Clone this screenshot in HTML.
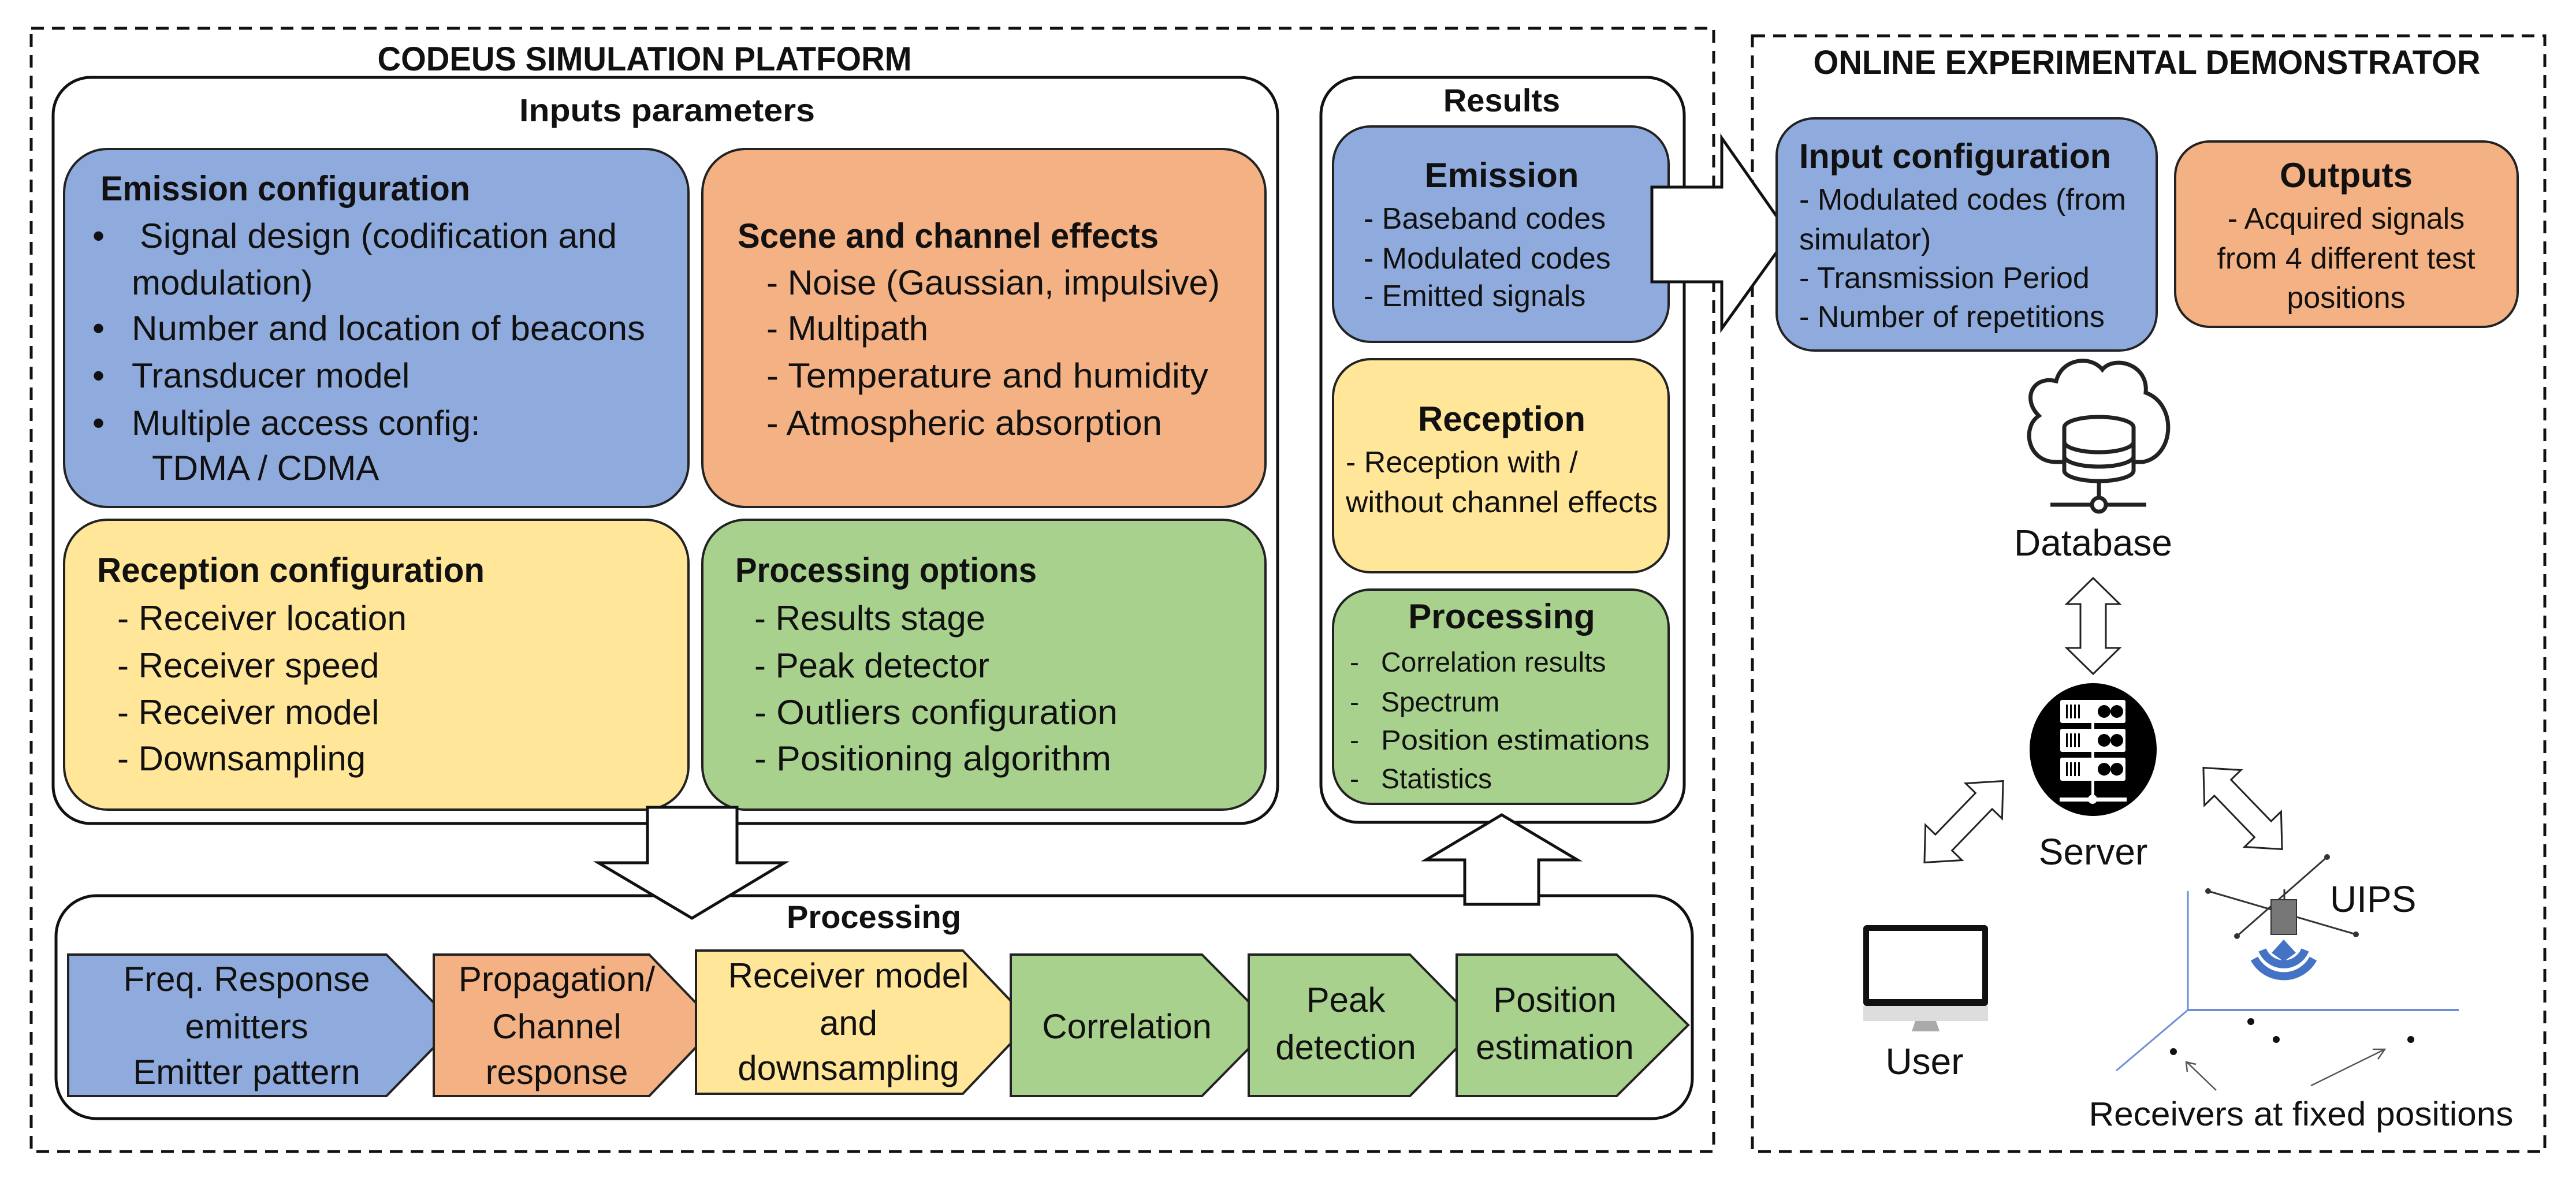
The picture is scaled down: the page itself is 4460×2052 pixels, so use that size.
<!DOCTYPE html>
<html><head><meta charset="utf-8"><style>
html,body{margin:0;padding:0;background:#fff;}
svg{display:block;}
text{font-family:"Liberation Sans",sans-serif;fill:#111;}
.b{font-weight:bold;}
</style></head><body>
<svg width="4460" height="2052" viewBox="0 0 4460 2052" xmlns="http://www.w3.org/2000/svg">
<!-- Dashed containers -->
<rect x="54" y="49" width="2913" height="1945" fill="none" stroke="#111" stroke-width="5" stroke-dasharray="22 14"/>
<rect x="3034" y="62" width="1372" height="1932" fill="none" stroke="#111" stroke-width="5" stroke-dasharray="22 14"/>
<text x="1116" y="122" font-size="58" class="b" text-anchor="middle" textLength="925" lengthAdjust="spacingAndGlyphs">CODEUS SIMULATION PLATFORM</text>
<text x="3717" y="128" font-size="58" class="b" text-anchor="middle" textLength="1155" lengthAdjust="spacingAndGlyphs">ONLINE EXPERIMENTAL DEMONSTRATOR</text>

<!-- Inputs parameters -->
<rect x="92" y="134" width="2120" height="1292" rx="65" fill="#fff" stroke="#111" stroke-width="5"/>
<text x="1155" y="210" font-size="56" class="b" text-anchor="middle" textLength="512" lengthAdjust="spacingAndGlyphs">Inputs parameters</text>

<rect x="111" y="258" width="1081" height="620" rx="75" fill="#8FAADC" stroke="#222" stroke-width="4"/>
<rect x="1216" y="258" width="975" height="620" rx="75" fill="#F4B183" stroke="#222" stroke-width="4"/>
<rect x="111" y="900" width="1081" height="502" rx="75" fill="#FFE699" stroke="#222" stroke-width="4"/>
<rect x="1216" y="900" width="975" height="502" rx="75" fill="#A9D18E" stroke="#222" stroke-width="4"/>

<g font-size="60">
<text x="174" y="347" class="b" textLength="640" lengthAdjust="spacingAndGlyphs">Emission configuration</text>
<text x="160" y="429">•</text><text x="242" y="429" textLength="826" lengthAdjust="spacingAndGlyphs">Signal design (codification and</text>
<text x="228" y="510">modulation)</text>
<text x="160" y="589">•</text><text x="228" y="589" textLength="889" lengthAdjust="spacingAndGlyphs">Number and location of beacons</text>
<text x="160" y="671">•</text><text x="228" y="671">Transducer model</text>
<text x="160" y="753">•</text><text x="228" y="753">Multiple access config:</text>
<text x="263" y="831">TDMA / CDMA</text>

<text x="1277" y="429" class="b" textLength="729" lengthAdjust="spacingAndGlyphs">Scene and channel effects</text>
<text x="1327" y="510" textLength="785" lengthAdjust="spacingAndGlyphs">- Noise (Gaussian, impulsive)</text>
<text x="1327" y="589">- Multipath</text>
<text x="1327" y="671" textLength="765" lengthAdjust="spacingAndGlyphs">- Temperature and humidity</text>
<text x="1327" y="753" textLength="685" lengthAdjust="spacingAndGlyphs">- Atmospheric absorption</text>

<text x="168" y="1008" class="b" textLength="671" lengthAdjust="spacingAndGlyphs">Reception configuration</text>
<text x="203" y="1091" textLength="501" lengthAdjust="spacingAndGlyphs">- Receiver location</text>
<text x="203" y="1173">- Receiver speed</text>
<text x="203" y="1254">- Receiver model</text>
<text x="203" y="1334">- Downsampling</text>

<text x="1273" y="1008" class="b" textLength="522" lengthAdjust="spacingAndGlyphs">Processing options</text>
<text x="1306" y="1091">- Results stage</text>
<text x="1306" y="1173">- Peak detector</text>
<text x="1306" y="1254" textLength="629" lengthAdjust="spacingAndGlyphs">- Outliers configuration</text>
<text x="1306" y="1334" textLength="618" lengthAdjust="spacingAndGlyphs">- Positioning algorithm</text>
</g>

<!-- Results -->
<rect x="2287" y="134" width="629" height="1290" rx="65" fill="#fff" stroke="#111" stroke-width="5"/>
<text x="2600" y="193" font-size="56" class="b" text-anchor="middle">Results</text>
<rect x="2308" y="219" width="581" height="373" rx="65" fill="#8FAADC" stroke="#222" stroke-width="4"/>
<rect x="2308" y="622" width="581" height="369" rx="65" fill="#FFE699" stroke="#222" stroke-width="4"/>
<rect x="2308" y="1021" width="581" height="371" rx="65" fill="#A9D18E" stroke="#222" stroke-width="4"/>
<g font-size="52">
<text x="2600" y="324" font-size="60" class="b" text-anchor="middle">Emission</text>
<text x="2361" y="396">- Baseband codes</text>
<text x="2361" y="465">- Modulated codes</text>
<text x="2361" y="530">- Emitted signals</text>
<text x="2600" y="746" font-size="60" class="b" text-anchor="middle">Reception</text>
<text x="2330" y="818">- Reception with /</text>
<text x="2330" y="887" textLength="540" lengthAdjust="spacingAndGlyphs">without channel effects</text>
<text x="2600" y="1088" font-size="60" class="b" text-anchor="middle">Processing</text>
<g font-size="48">
<text x="2337" y="1163">-</text><text x="2391" y="1163">Correlation results</text>
<text x="2337" y="1232">-</text><text x="2391" y="1232">Spectrum</text>
<text x="2337" y="1298">-</text><text x="2391" y="1298" textLength="465" lengthAdjust="spacingAndGlyphs">Position estimations</text>
<text x="2337" y="1365">-</text><text x="2391" y="1365">Statistics</text>
</g>
</g>

<!-- Processing box -->
<rect x="97" y="1551" width="2833" height="386" rx="70" fill="#fff" stroke="#111" stroke-width="5"/>
<text x="1513" y="1607" font-size="56" class="b" text-anchor="middle">Processing</text>

<!-- Down arrow -->
<polygon points="1121,1398 1276,1398 1276,1494 1358,1494 1198,1590 1036,1494 1121,1494" fill="#fff" stroke="#111" stroke-width="5"/>
<!-- Up arrow -->
<polygon points="2536,1566 2664,1566 2664,1489 2731,1489 2600,1411 2469,1489 2536,1489" fill="#fff" stroke="#111" stroke-width="5"/>
<!-- Right arrow -->
<polygon points="2860,324 2981,324 2981,239 3098,406 2981,569 2981,488 2860,488" fill="#fff" stroke="#111" stroke-width="5"/>

<!-- Chevrons -->
<g stroke="#222" stroke-width="4">
<polygon points="118,1653 669,1653 789,1775 669,1898 118,1898" fill="#8FAADC"/>
<polygon points="751,1653 1124,1653 1242,1775 1124,1898 751,1898" fill="#F4B183"/>
<polygon points="1205,1646 1667,1646 1785,1770 1667,1894 1205,1894" fill="#FFE699"/>
<polygon points="1750,1653 2081,1653 2202,1775 2081,1898 1750,1898" fill="#A9D18E"/>
<polygon points="2162,1653 2441,1653 2561,1775 2441,1898 2162,1898" fill="#A9D18E"/>
<polygon points="2522,1653 2799,1653 2923,1775 2799,1898 2522,1898" fill="#A9D18E"/>
</g>
<g font-size="60" text-anchor="middle">
<text x="427" y="1716">Freq. Response</text>
<text x="427" y="1798">emitters</text>
<text x="427" y="1877">Emitter pattern</text>
<text x="964" y="1716">Propagation/</text>
<text x="964" y="1798">Channel</text>
<text x="964" y="1877">response</text>
<text x="1469" y="1710">Receiver model</text>
<text x="1469" y="1792">and</text>
<text x="1469" y="1870">downsampling</text>
<text x="1951" y="1798">Correlation</text>
<text x="2330" y="1752">Peak</text>
<text x="2330" y="1834">detection</text>
<text x="2692" y="1752">Position</text>
<text x="2692" y="1834">estimation</text>
</g>

<!-- Online demonstrator boxes -->
<rect x="3076" y="205" width="658" height="402" rx="65" fill="#8FAADC" stroke="#222" stroke-width="4"/>
<rect x="3766" y="245" width="593" height="321" rx="60" fill="#F4B183" stroke="#222" stroke-width="4"/>
<g font-size="52">
<text x="3115" y="291" font-size="60" class="b" textLength="540" lengthAdjust="spacingAndGlyphs">Input configuration</text>
<text x="3115" y="363" textLength="566" lengthAdjust="spacingAndGlyphs">- Modulated codes (from</text>
<text x="3115" y="432">simulator)</text>
<text x="3115" y="499">- Transmission Period</text>
<text x="3115" y="566">- Number of repetitions</text>
<text x="4062" y="324" font-size="60" class="b" text-anchor="middle">Outputs</text>
<text x="4062" y="396" text-anchor="middle">- Acquired signals</text>
<text x="4062" y="465" text-anchor="middle">from 4 different test</text>
<text x="4062" y="533" text-anchor="middle">positions</text>
</g>

<!-- Database icon -->
<g fill="#fff" stroke="#222" stroke-width="7">
<path d="M3560,800 C3510,800 3500,740 3530,720 C3500,690 3520,650 3560,660 C3570,620 3620,615 3640,640 C3660,615 3720,630 3715,680 C3770,700 3765,790 3710,800 Z"/>
<ellipse cx="3634" cy="740" rx="60" ry="18"/>
<path d="M3574,740 L3574,815 A60,18 0 0 0 3694,815 L3694,740"/>
<path d="M3574,765 A60,18 0 0 0 3694,765 M3574,790 A60,18 0 0 0 3694,790" fill="none"/>
<line x1="3634" y1="833" x2="3634" y2="862"/>
<line x1="3550" y1="874" x2="3716" y2="874"/>
<circle cx="3634" cy="874" r="12"/>
</g>
<text x="3624" y="962" font-size="64" text-anchor="middle">Database</text>

<!-- Double arrows -->
<g fill="#fff" stroke="#222" stroke-width="3">
<polygon transform="translate(3624,1084) rotate(90)" points="-83,0 -38,-46 -38,-22 38,-22 38,-46 83,0 38,46 38,22 -38,22 -38,46"/>
<polygon transform="translate(3400,1423) rotate(134)" points="-98,0 -50,-44 -50,-20 50,-20 50,-44 98,0 50,44 50,20 -50,20 -50,44"/>
<polygon transform="translate(3883,1400) rotate(46)" points="-98,0 -50,-44 -50,-20 50,-20 50,-44 98,0 50,44 50,20 -50,20 -50,44"/>
</g>

<!-- Server icon -->
<ellipse cx="3624" cy="1298" rx="110" ry="115" fill="#000"/>
<g fill="#fff">
<rect x="3567" y="1212" width="113" height="40" rx="3"/>
<rect x="3567" y="1262" width="113" height="40" rx="3"/>
<rect x="3567" y="1312" width="113" height="40" rx="3"/>
<rect x="3566" y="1381" width="116" height="7"/>
<rect x="3621" y="1250" width="5" height="130"/>
<circle cx="3623" cy="1384" r="8"/>
</g>
<g fill="#000">
<rect x="3577" y="1220" width="3" height="24"/><rect x="3584" y="1220" width="3" height="24"/><rect x="3591" y="1220" width="3" height="24"/><rect x="3598" y="1220" width="3" height="24"/>
<rect x="3577" y="1270" width="3" height="24"/><rect x="3584" y="1270" width="3" height="24"/><rect x="3591" y="1270" width="3" height="24"/><rect x="3598" y="1270" width="3" height="24"/>
<rect x="3577" y="1320" width="3" height="24"/><rect x="3584" y="1320" width="3" height="24"/><rect x="3591" y="1320" width="3" height="24"/><rect x="3598" y="1320" width="3" height="24"/>
<circle cx="3643" cy="1232" r="11"/><circle cx="3665" cy="1232" r="11"/>
<circle cx="3643" cy="1282" r="11"/><circle cx="3665" cy="1282" r="11"/>
<circle cx="3643" cy="1332" r="11"/><circle cx="3665" cy="1332" r="11"/>
</g>
<text x="3624" y="1497" font-size="64" text-anchor="middle">Server</text>

<!-- Monitor -->
<rect x="3226" y="1602" width="216" height="140" rx="6" fill="#111"/>
<rect x="3236" y="1612" width="196" height="118" fill="#fff"/>
<rect x="3226" y="1742" width="216" height="26" fill="#ddd"/>
<polygon points="3316,1768 3352,1768 3358,1786 3310,1786" fill="#aaa"/>
<text x="3332" y="1860" font-size="64" text-anchor="middle">User</text>

<!-- Axes -->
<g stroke="#6E8FD8" stroke-width="3" fill="none">
<line x1="3788" y1="1543" x2="3788" y2="1749"/>
<line x1="3788" y1="1749" x2="4257" y2="1749" stroke-width="4"/>
<line x1="3788" y1="1749" x2="3664" y2="1854"/>
</g>
<!-- UIPS -->
<g stroke="#333" stroke-width="3">
<line x1="3823" y1="1543" x2="4079" y2="1618"/>
<line x1="4029" y1="1484" x2="3873" y2="1621"/>
<line x1="3955" y1="1540" x2="3955" y2="1560"/>
</g>
<g fill="#333"><circle cx="3823" cy="1543" r="5"/><circle cx="4079" cy="1618" r="5"/><circle cx="4029" cy="1484" r="5"/><circle cx="3873" cy="1621" r="5"/></g>
<rect x="3932" y="1558" width="44" height="60" fill="#777" stroke="#333" stroke-width="2"/>
<text x="4034" y="1579" font-size="64">UIPS</text>
<!-- Wifi arcs -->
<g fill="none" stroke="#4472C4" stroke-width="14">
<path d="M3903,1660 A58,58 0 0 0 4005,1660"/>
<path d="M3917,1645 A40,40 0 0 0 3991,1645"/>
</g>
<polygon points="3954,1627 3975,1650 3954,1665 3933,1650" fill="#4472C4"/>
<!-- receivers -->
<g fill="#111"><circle cx="3897" cy="1769" r="6"/><circle cx="3941" cy="1800" r="6"/><circle cx="4174" cy="1800" r="6"/><circle cx="3763" cy="1821" r="6"/></g>
<g stroke="#555" stroke-width="2.5" fill="none">
<line x1="3837" y1="1888" x2="3787" y2="1840"/>
<polyline points="3787,1856 3785,1839 3802,1843"/>
<line x1="4001" y1="1880" x2="4127" y2="1818"/>
<polyline points="4108,1817 4129,1817 4117,1834"/>
</g>
<text x="3984" y="1949" font-size="58" text-anchor="middle" textLength="735" lengthAdjust="spacingAndGlyphs">Receivers at fixed positions</text>
</svg>
</body></html>
